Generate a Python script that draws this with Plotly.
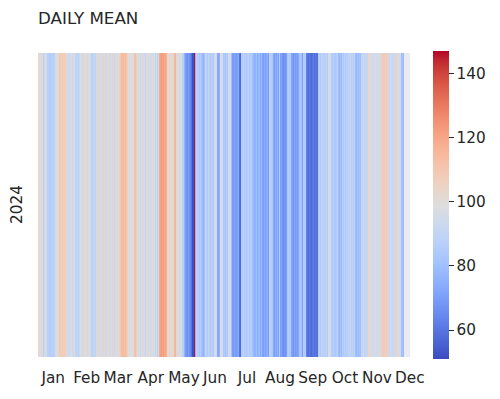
import plotly.graph_objects as go

year_label = "2024"
month_labels = ["Jan", "Feb", "Mar", "Apr", "May", "Jun", "Jul", "Aug", "Sep", "Oct", "Nov", "Dec"]
month_tick_cols = [14.5, 47.4, 78.2, 110.4, 143.1, 173.6, 205.1, 237.6, 269.8, 301.5, 333.0, 365.3]

daily_mean = [
    101, 104, 98, 96, 102, 86, 95, 97, 94, 88,
    86, 87, 85, 88, 86, 87, 89, 95, 97, 99,
    105, 108, 109, 106, 110, 106, 108, 107, 103, 94,
    93, 96, 98, 92, 95, 97, 90, 89, 90, 88,
    92, 99, 96, 103, 95, 100, 98, 94, 104, 97,
    99, 94, 89, 88, 90, 91, 89, 96, 102, 95,
    105, 98, 93, 96, 106, 103, 95, 92, 98, 104,
    96, 93, 100, 106, 95, 92, 98, 103, 94, 99,
    105, 109, 114, 113, 115, 112, 114, 111, 107, 99,
    96, 100, 97, 98, 111, 113, 108, 98, 94, 97,
    92, 99, 94, 103, 96, 90, 97, 102, 94, 98,
    93, 103, 97, 95, 99, 90, 98, 88, 94, 118,
    121, 123, 120, 122, 119, 121, 117, 104, 101, 106,
    98, 104, 97, 105, 114, 116, 103, 96, 100, 95,
    100, 96, 88, 86, 76, 70, 68, 66, 70, 67,
    64, 60, 52, 146, 76, 90, 84, 88, 82, 86,
    82, 78, 76, 80, 92, 88, 84, 90, 86, 84,
    89, 86, 84, 96, 97, 94, 74, 72, 76, 97,
    98, 95, 83, 85, 82, 86, 84, 96, 94, 97,
    80, 70, 68, 72, 70, 69, 71, 73, 60, 58,
    84, 86, 88, 85, 87, 83, 86, 89, 84, 87,
    85, 82, 78, 76, 80, 75, 77, 79, 74, 78,
    72, 70, 74, 71, 73, 75, 70, 86, 88, 85,
    84, 73, 70, 74, 72, 76, 71, 86, 70, 72,
    68, 66, 69, 67, 70, 84, 86, 83, 85, 72,
    70, 68, 72, 69, 71, 70, 73, 82, 84, 80,
    72, 85, 84, 86, 62, 60, 58, 61, 59, 57,
    60, 62, 58, 61, 59, 86, 88, 84, 90, 87,
    89, 86, 88, 90, 85, 97, 98, 96, 86, 84,
    87, 85, 83, 86, 88, 80, 78, 82, 79, 86,
    84, 88, 85, 87, 86, 90, 88, 91, 87, 89,
    86, 88, 80, 78, 81, 79, 82, 80, 92, 90,
    93, 89, 91, 92, 90, 103, 104, 102, 95, 93,
    96, 94, 97, 95, 93, 96, 94, 108, 107, 109,
    108, 106, 108, 107, 94, 92, 95, 93, 91, 94,
    92, 95, 106, 104, 96, 94, 95, 80, 82, 78,
    None, None, None, None, None, None,
]

day_index = list(range(len(daily_mean)))

coolwarm_rgb = [
    (59, 76, 192), (68, 90, 204), (77, 104, 215), (87, 117, 225), (98, 130, 234),
    (108, 142, 241), (119, 154, 247), (130, 165, 251), (141, 176, 254), (152, 185, 255),
    (163, 194, 255), (174, 201, 253), (184, 208, 249), (194, 213, 244), (204, 217, 238),
    (213, 219, 230), (221, 221, 221), (229, 216, 209), (236, 211, 197), (241, 204, 185),
    (245, 196, 173), (247, 187, 160), (247, 177, 148), (247, 166, 135), (244, 154, 123),
    (241, 141, 111), (236, 127, 99), (229, 112, 88), (222, 96, 77), (213, 80, 66),
    (203, 62, 56), (192, 40, 47), (180, 4, 38),
]
n = len(coolwarm_rgb) - 1
colorscale = [[i / n, "rgb(%d,%d,%d)" % c] for i, c in enumerate(coolwarm_rgb)]

text_color = "#262626"
font_family = "DejaVu Sans"
tick_size = 15.3
title_size = 16.7

# page body adds an 8px offset; figure sized so the page matches 500x399
W, H = 492, 391
L, R, T, B = 30, 90, 45, 38

fig = go.Figure(
    go.Heatmap(
        z=[daily_mean],
        x=day_index,
        y=[year_label],
        colorscale=colorscale,
        zmin=51,
        zmax=147,
        hoverongaps=False,
        colorbar=dict(
            x=(433 - 8 - L) / (W - L - R),
            xanchor="left",
            xpad=0,
            ypad=0,
            y=0.5,
            yanchor="middle",
            len=308,
            lenmode="pixels",
            thickness=16,
            outlinewidth=0,
            tickvals=[60, 80, 100, 120, 140],
            ticks="outside",
            ticklen=5,
            tickwidth=1.2,
            tickcolor=text_color,
            tickfont=dict(family=font_family, size=tick_size, color=text_color),
        ),
    )
)

fig.update_layout(
    width=W,
    height=H,
    margin=dict(l=L, r=R, t=T, b=B),
    paper_bgcolor="white",
    plot_bgcolor="#eaeaf2",
    font=dict(family=font_family, size=tick_size, color=text_color),
    title=dict(
        text="DAILY MEAN",
        x=L / W,
        xanchor="left",
        y=1 - 10 / H,
        yanchor="middle",
        font=dict(family=font_family, size=title_size, color=text_color),
    ),
    xaxis=dict(
        range=[-0.5, len(daily_mean) - 0.5],
        tickvals=month_tick_cols,
        ticktext=month_labels,
        ticks="outside",
        ticklen=7,
        tickcolor="rgba(0,0,0,0)",
        showgrid=False,
        zeroline=False,
        showline=False,
        tickfont=dict(family=font_family, size=tick_size, color=text_color),
    ),
    yaxis=dict(
        showticklabels=False,
        showgrid=False,
        zeroline=False,
        showline=False,
        ticks="",
    ),
    annotations=[
        dict(
            text=year_label,
            xref="paper",
            yref="paper",
            x=0,
            y=0.5,
            xanchor="center",
            yanchor="middle",
            xshift=-21,
            textangle=-90,
            showarrow=False,
            font=dict(family=font_family, size=tick_size, color=text_color),
        )
    ],
)

fig.write_html("out.html")
